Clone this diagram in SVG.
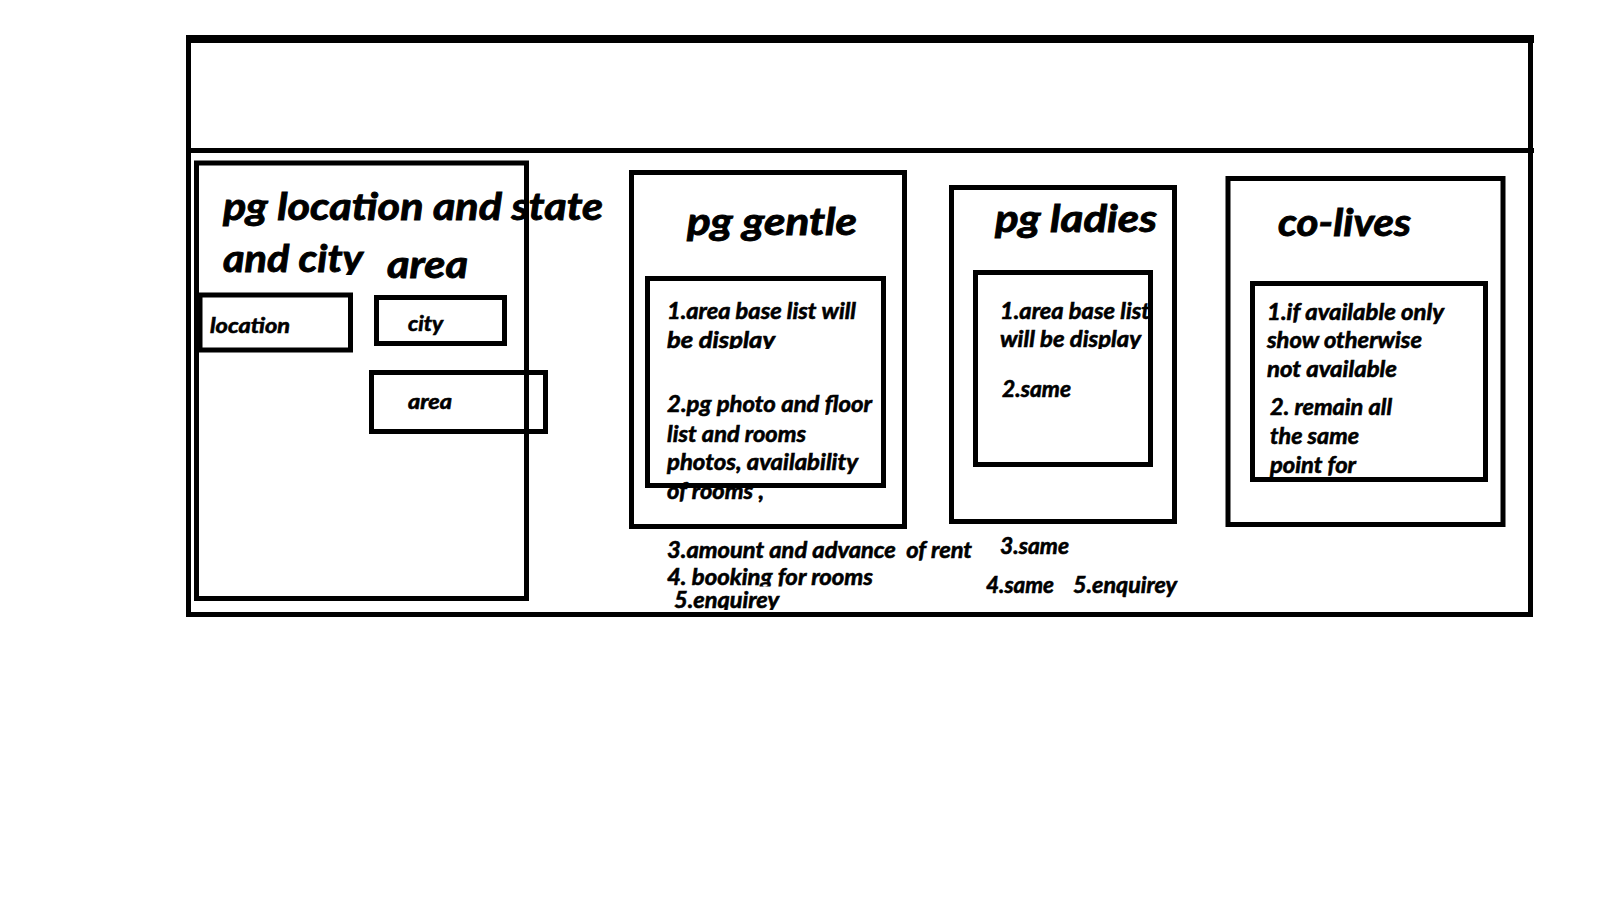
<svg xmlns="http://www.w3.org/2000/svg" width="1600" height="899" viewBox="0 0 1600 899">
<style>
.box{fill:none;stroke:#000;stroke-width:5}
.t{font-family:Lato,"Open Sans","Liberation Sans",sans-serif;font-weight:bold;font-style:italic;fill:#000;stroke:#000;stroke-width:0.6}
.big{font-size:38px;stroke-width:0.9}
.mid{font-size:23px}
.sm{font-size:21px}
</style>
<defs>
<clipPath id="c1"><rect x="200" y="230" width="200" height="45"/></clipPath>
<clipPath id="c2"><rect x="650" y="325" width="200" height="24"/></clipPath>
<clipPath id="c3"><rect x="980" y="325" width="170" height="24"/></clipPath>
<clipPath id="c4"><rect x="650" y="562" width="300" height="24.5"/></clipPath>
<clipPath id="c5"><rect x="650" y="588" width="200" height="22"/></clipPath>
</defs>
<rect width="1600" height="899" fill="#fff"/>
<g id="frame">
<rect class="box" x="188.5" y="39" width="1342" height="575.5"/>
<line x1="186" y1="39" x2="1534" y2="39" stroke="#000" stroke-width="8"/>
<line x1="186" y1="150.5" x2="1534" y2="150.5" stroke="#000" stroke-width="5"/>
</g>
<g id="location-panel">
<rect class="box" x="196.5" y="163" width="330" height="435.5"/>
<text class="t big" x="223" y="220" textLength="380" lengthAdjust="spacingAndGlyphs">pg location and state</text>
<text class="t big" x="223" y="272" textLength="140" lengthAdjust="spacingAndGlyphs" clip-path="url(#c1)">and city</text>
<text class="t big" x="387" y="278" textLength="81" lengthAdjust="spacingAndGlyphs">area</text>
</g>
<g id="location">
<rect class="box" x="200" y="295" width="150.5" height="55"/>
<text class="t sm" x="210" y="333" textLength="80" lengthAdjust="spacingAndGlyphs">location</text>
</g>
<g id="city">
<rect class="box" x="376.5" y="297.5" width="128" height="46"/>
<text class="t sm" x="408" y="331" textLength="35" lengthAdjust="spacingAndGlyphs">city</text>
</g>
<g id="area">
<rect class="box" x="371.5" y="372.5" width="174" height="59"/>
<text class="t sm" x="408" y="409" textLength="44" lengthAdjust="spacingAndGlyphs">area</text>
</g>
<g id="pg-gentle">
<rect class="box" x="631.5" y="172.5" width="273" height="354"/>
<text class="t big" x="687" y="235" textLength="170" lengthAdjust="spacingAndGlyphs">pg gentle</text>
<text class="t mid" x="667" y="499" textLength="97" lengthAdjust="spacingAndGlyphs">of rooms ,</text>
<rect class="box" x="647.5" y="278.5" width="236" height="207"/>
<text class="t mid" x="667" y="319" textLength="189" lengthAdjust="spacingAndGlyphs">1.area base list will</text>
<text class="t mid" x="667" y="347.5" textLength="108" lengthAdjust="spacingAndGlyphs" clip-path="url(#c2)">be display</text>
<text class="t mid" x="667" y="412" textLength="205" lengthAdjust="spacingAndGlyphs">2.pg photo and floor</text>
<text class="t mid" x="667" y="442" textLength="139" lengthAdjust="spacingAndGlyphs">list and rooms</text>
<text class="t mid" x="667" y="470" textLength="191" lengthAdjust="spacingAndGlyphs">photos, availability</text>
<text class="t mid" x="667" y="558" textLength="305" lengthAdjust="spacingAndGlyphs" xml:space="preserve">3.amount and advance  of rent</text>
<text class="t mid" x="667" y="585" textLength="206" lengthAdjust="spacingAndGlyphs" clip-path="url(#c4)">4. booking for rooms</text>
<text class="t mid" x="674" y="608" textLength="105" lengthAdjust="spacingAndGlyphs" clip-path="url(#c5)">5.enquirey</text>
</g>
<g id="pg-ladies">
<rect class="box" x="951.5" y="187.5" width="223" height="334"/>
<text class="t big" x="995" y="232" textLength="162" lengthAdjust="spacingAndGlyphs">pg ladies</text>
<text class="t mid" x="1000" y="319" textLength="150" lengthAdjust="spacingAndGlyphs">1.area base list</text>
<text class="t mid" x="1000" y="347" textLength="141" lengthAdjust="spacingAndGlyphs" clip-path="url(#c3)">will be display</text>
<text class="t mid" x="1002" y="397" textLength="69" lengthAdjust="spacingAndGlyphs">2.same</text>
<rect class="box" x="975.5" y="272.5" width="175" height="192"/>
<text class="t mid" x="1000" y="554" textLength="69" lengthAdjust="spacingAndGlyphs">3.same</text>
<text class="t mid" x="986" y="593" textLength="68" lengthAdjust="spacingAndGlyphs">4.same</text>
<text class="t mid" x="1073" y="593" textLength="104" lengthAdjust="spacingAndGlyphs">5.enquirey</text>
</g>
<g id="co-lives">
<rect class="box" x="1228" y="178.5" width="275" height="346"/>
<text class="t big" x="1278" y="236" textLength="133" lengthAdjust="spacingAndGlyphs">co-lives</text>
<text class="t mid" x="1267" y="320" textLength="177" lengthAdjust="spacingAndGlyphs">1.if available only</text>
<text class="t mid" x="1267" y="348" textLength="155" lengthAdjust="spacingAndGlyphs">show otherwise</text>
<text class="t mid" x="1267" y="377" textLength="130" lengthAdjust="spacingAndGlyphs">not available</text>
<text class="t mid" x="1270" y="415" textLength="122" lengthAdjust="spacingAndGlyphs">2. remain all</text>
<text class="t mid" x="1270" y="444" textLength="89" lengthAdjust="spacingAndGlyphs">the same</text>
<text class="t mid" x="1270" y="473" textLength="86" lengthAdjust="spacingAndGlyphs">point for</text>
<rect class="box" x="1252.5" y="283.5" width="233" height="196"/>
</g>
<g id="connectors"/>
</svg>
